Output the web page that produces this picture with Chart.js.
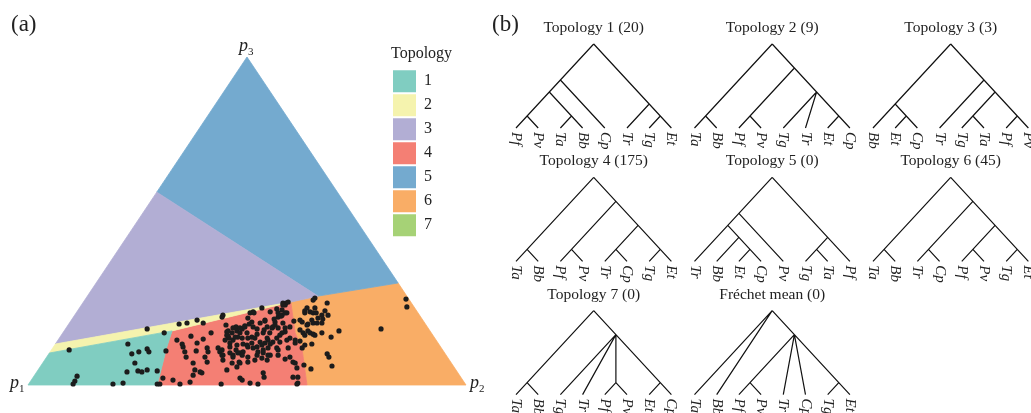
<!DOCTYPE html>
<html>
<head>
<meta charset="utf-8">
<script src="https://cdn.jsdelivr.net/npm/chart.js@4.4.1/dist/chart.umd.min.js"></script>
<style>
  body { margin: 0; background: #fff; }
  #marco { position: relative; width: 1031px; height: 413px; overflow: hidden; background: #fff; }
  canvas { position: absolute; }
</style>
</head>
<body>
<div id="marco">
  <canvas id="ternario" width="490" height="413" style="left:0;top:0"></canvas>
  <canvas id="leyenda" width="75" height="460" style="left:391px;top:40px"></canvas>
  <canvas id="arboles" width="541" height="413" style="left:490px;top:0"></canvas>
</div>
<script>
// ---------- datos del panel (a) ----------
const topologias = ['1', '2', '3', '4', '5', '6', '7'];
const coloresTopologia = ['#80cdc1', '#f5f3ae', '#b2aed4', '#f47f74', '#74aacf', '#f9ad66', '#a6d276'];

// vertices del simplex en coordenadas del triangulo (x, y)
const verticeP1 = [0, 0];
const verticeP2 = [1, 0];
const verticeP3 = [0.5, 1];

// regiones de cada topologia (vertices)
const region1 = [[0.0488, 0.0976], [0, 0], [0.295, 0], [0.317, 0.116], [0.329, 0.165]];
const region2 = [[0.0625, 0.125], [0.0488, 0.0976], [0.329, 0.165], [0.600, 0.253]];
const region3 = [[0.294, 0.588], [0.0625, 0.125], [0.600, 0.253], [0.662, 0.271]];
const region4 = [[0.329, 0.165], [0.317, 0.116], [0.295, 0], [0.637, 0], [0.626, 0.107], [0.610, 0.159], [0.600, 0.253]];
const region5 = [[0.5, 1], [0.294, 0.588], [0.662, 0.271], [0.845, 0.311]];
const region6 = [[0.600, 0.253], [0.610, 0.159], [0.626, 0.107], [0.637, 0], [1, 0], [0.845, 0.311], [0.662, 0.271]];

// muestras (puntos negros)
const puntosT1 = [[0.094,0.107],[0.228,0.125],[0.237,0.095],[0.253,0.101],[0.272,0.110],[0.276,0.101],[0.244,0.067],
  [0.226,0.040],[0.251,0.043],[0.272,0.046],[0.295,0.043],[0.260,0.040],[0.112,0.027],[0.107,0.012],[0.103,0.003],
  [0.194,0.003],[0.217,0.006],[0.295,0.003],[0.301,0.003],[0.315,0.104]];
const puntosT2 = [[0.272,0.171],[0.311,0.159],[0.345,0.186],[0.363,0.189],[0.400,0.189],[0.445,0.213],[0.534,0.235],
  [0.582,0.250],[0.589,0.250]];
const puntosT3 = [[0.386,0.198],[0.443,0.207],[0.502,0.204]];
const puntosT4 = [[0.340,0.137],[0.352,0.125],[0.354,0.116],[0.372,0.149],[0.386,0.128],[0.384,0.104],[0.358,0.101],
  [0.361,0.085],[0.377,0.067],[0.400,0.140],[0.418,0.159],[0.409,0.113],[0.411,0.101],[0.404,0.085],[0.434,0.113],
  [0.438,0.101],[0.445,0.091],[0.452,0.183],[0.454,0.162],[0.457,0.149],[0.466,0.159],[0.468,0.137],[0.461,0.128],
  [0.475,0.177],[0.477,0.165],[0.479,0.146],[0.484,0.159],[0.489,0.171],[0.495,0.177],[0.500,0.159],[0.505,0.186],
  [0.511,0.192],[0.514,0.177],[0.523,0.171],[0.530,0.189],[0.541,0.195],[0.546,0.177],[0.537,0.159],[0.552,0.159],
  [0.559,0.177],[0.564,0.192],[0.571,0.207],[0.580,0.213],[0.582,0.189],[0.591,0.220],[0.598,0.177],[0.587,0.162],
  [0.575,0.152],[0.548,0.137],[0.541,0.128],[0.530,0.131],[0.523,0.116],[0.511,0.128],[0.500,0.122],[0.491,0.101],
  [0.484,0.098],[0.475,0.107],[0.468,0.091],[0.482,0.070],[0.477,0.055],[0.466,0.067],[0.454,0.046],[0.445,0.076],
  [0.502,0.085],[0.523,0.091],[0.537,0.098],[0.546,0.076],[0.537,0.037],[0.539,0.024],[0.507,0.006],[0.525,0.003],
  [0.484,0.021],[0.489,0.015],[0.441,0.003],[0.381,0.046],[0.377,0.030],[0.397,0.037],[0.308,0.021],[0.331,0.015],
  [0.347,0.003],[0.370,0.009],[0.587,0.079],[0.605,0.070],[0.614,0.052],[0.605,0.024],[0.616,0.006],[0.594,0.113],
  [0.610,0.128],[0.598,0.143],[0.568,0.113],[0.571,0.091],[0.553,0.091],[0.587,0.244],[0.594,0.253],[0.568,0.232],
  [0.507,0.220],[0.514,0.223],[0.516,0.220],[0.468,0.174],[0.484,0.174],[0.495,0.180],[0.553,0.223],[0.562,0.201],
  [0.571,0.220],[0.578,0.210],[0.587,0.220],[0.580,0.229],[0.582,0.244],[0.607,0.195],[0.541,0.198],[0.539,0.168],
  [0.546,0.143],[0.511,0.146],[0.523,0.155],[0.518,0.143],[0.502,0.143],[0.489,0.143],[0.473,0.146],[0.459,0.143],
  [0.454,0.152],[0.457,0.165],[0.450,0.137],[0.568,0.143],[0.575,0.131],[0.591,0.137],[0.580,0.159],[0.571,0.174],
  [0.564,0.183],[0.557,0.174],[0.587,0.174],[0.559,0.131],[0.553,0.125],[0.548,0.113],[0.537,0.107],[0.525,0.101],
  [0.514,0.113],[0.489,0.091],[0.479,0.098],[0.468,0.085],[0.461,0.098],[0.443,0.091],[0.443,0.107],[0.461,0.116],
  [0.477,0.122],[0.491,0.125],[0.502,0.116],[0.534,0.122],[0.571,0.107],[0.598,0.085],[0.548,0.091],[0.534,0.082],
  [0.518,0.076],[0.484,0.067],[0.502,0.070],[0.610,0.067],[0.614,0.003],[0.393,0.040],[0.409,0.070]];
const puntosT6 = [[0.655,0.265],[0.683,0.250],[0.632,0.220],[0.637,0.235],[0.644,0.223],[0.651,0.220],[0.658,0.220],
  [0.671,0.213],[0.678,0.226],[0.685,0.213],[0.626,0.192],[0.637,0.183],[0.648,0.198],[0.651,0.189],[0.660,0.189],
  [0.671,0.189],[0.673,0.201],[0.621,0.168],[0.628,0.159],[0.639,0.165],[0.644,0.159],[0.655,0.152],[0.671,0.159],
  [0.710,0.165],[0.692,0.146],[0.610,0.137],[0.632,0.122],[0.648,0.125],[0.626,0.113],[0.683,0.095],[0.687,0.085],
  [0.694,0.058],[0.646,0.049],[0.630,0.061],[0.616,0.024],[0.806,0.171],[0.863,0.262],[0.865,0.238],[0.651,0.259],
  [0.655,0.235],[0.632,0.226],[0.662,0.204],[0.639,0.186],[0.632,0.152],[0.651,0.155],[0.621,0.134],[0.621,0.198]];

// ---------- datos del panel (b) ----------
const titulosArbol = ['Topology 1 (20)', 'Topology 2 (9)', 'Topology 3 (3)', 'Topology 4 (175)', 'Topology 5 (0)',
  'Topology 6 (45)', 'Topology 7 (0)', 'Fréchet mean (0)'];
const arbolesNewick = [
  '((((Pf,Pv),(Ta,Bb)),Cp),(Tr,(Tg,Et)))',
  '((Ta,Bb),((Pf,Pv),(Tg,Tr,(Et,Cp))))',
  '((Bb,(Et,Cp)),(Tr,((Tg,Ta),(Pf,Pv))))',
  '((Ta,Bb),((Pf,Pv),((Tr,Cp),(Tg,Et))))',
  '(((Tr,(Bb,(Et,Cp))),Pv),((Tg,Ta),Pf))',
  '((Ta,Bb),((Tr,Cp),((Pf,Pv),(Tg,Et))))',
  '((Ta,Bb),(Tg,Tr,(Pf,Pv),(Et,Cp)))',
  '(Ta,Bb,((Pf,Pv),Tr,Cp,(Tg,Et)))'
];

Chart.defaults.font.family = '"Liberation Serif", "DejaVu Serif", serif';
Chart.defaults.color = '#222';
Chart.defaults.animation = false;

const aXY = arr => arr.map(p => ({ x: p[0], y: p[1] }));
const cerrar = arr => aXY(arr.concat([arr[0]]));

// ---------- panel (a): simplex ----------
const regiones = [region1, region2, region3, region4, region5, region6];
const datasetsRegion = regiones.map((r, i) => ({
  type: 'line',
  data: cerrar(r),
  showLine: true,
  fill: 'shape',
  backgroundColor: coloresTopologia[i],
  borderColor: coloresTopologia[i],
  borderWidth: 0.8,
  pointRadius: 0,
  tension: 0,
  clip: false,
  order: 2
}));

const todosPuntos = puntosT1.concat(puntosT2, puntosT3, puntosT4, puntosT6);

const etiquetasVertice = {
  id: 'etiquetasVertice',
  afterDraw(chart) {
    const { ctx, scales: { x, y } } = chart;
    ctx.save();
    ctx.fillStyle = '#222';
    ctx.textAlign = 'left';
    ctx.textBaseline = 'alphabetic';
    function poner(v, dx, dy, sub) {
      const px = x.getPixelForValue(v[0]) + dx;
      const py = y.getPixelForValue(v[1]) + dy;
      ctx.font = 'italic 18px "Liberation Serif"';
      ctx.fillText('p', px, py);
      const w = ctx.measureText('p').width;
      ctx.font = '11px "Liberation Serif"';
      ctx.fillText(sub, px + w, py + 4);
    }
    poner(verticeP1, -18, 3, '1');
    poner(verticeP2, 4, 3, '2');
    poner(verticeP3, -8, -6, '3');
    ctx.font = '23px "Liberation Serif"';
    ctx.fillText('(a)', 11, 31);
    ctx.restore();
  }
};

new Chart(document.getElementById('ternario'), {
  type: 'scatter',
  data: {
    datasets: [{
      data: aXY(todosPuntos),
      backgroundColor: '#1c1c1c',
      borderWidth: 0,
      pointRadius: 2.6,
      clip: false,
      order: 0
    }].concat(datasetsRegion)
  },
  options: {
    responsive: false,
    devicePixelRatio: 1,
    events: [],
    layout: { padding: { left: 28, right: 24, top: 57, bottom: 28 } },
    scales: {
      x: { type: 'linear', min: 0, max: 1, display: false },
      y: { type: 'linear', min: 0, max: 1, display: false }
    },
    plugins: { legend: { display: false }, tooltip: { enabled: false } }
  },
  plugins: [etiquetasVertice]
});

// ---------- leyenda (una entrada por fila) ----------
new Chart(document.getElementById('leyenda'), {
  type: 'bar',
  data: {
    labels: [],
    datasets: topologias.map((t, i) => ({ label: t, data: [], backgroundColor: coloresTopologia[i], borderWidth: 0 }))
  },
  options: {
    responsive: false,
    devicePixelRatio: 1,
    events: [],
    scales: { x: { display: false }, y: { display: false } },
    plugins: {
      tooltip: { enabled: false },
      legend: {
        position: 'top',
        align: 'start',
        title: {
          display: true,
          text: 'Topology',
          position: 'start',
          color: '#222',
          font: { size: 16, weight: 'normal' },
          padding: { top: 6, bottom: 3 }
        },
        labels: {
          boxWidth: 23,
          boxHeight: 22,
          padding: 2,
          color: '#222',
          font: { size: 16 }
        }
      }
    }
  }
});

// ---------- panel (b): arboles ----------
function leerNewick(s) {
  let i = 0;
  function nodo() {
    if (s[i] === '(') {
      i++;
      const hijos = [];
      while (i < s.length) {
        hijos.push(nodo());
        if (s[i] === ',') { i++; continue; }
        if (s[i] === ')') { i++; break; }
      }
      return { hijos };
    }
    let nombre = '';
    while (i < s.length && !',()'.includes(s[i])) nombre += s[i++];
    return { nombre };
  }
  return nodo();
}

function ubicar(n, hojas) {
  if (!n.hijos) {
    n.primero = n.ultimo = hojas.length;
    hojas.push(n.nombre);
  } else {
    n.hijos.forEach(h => ubicar(h, hojas));
    n.primero = n.hijos[0].primero;
    n.ultimo = n.hijos[n.hijos.length - 1].ultimo;
  }
  // cladograma: cada nodo en el vertice del triangulo de sus hojas extremas
  n.x = (n.primero + n.ultimo) / 2;
  n.h = (n.ultimo - n.primero) / 2;
}

function ramas(n, dx, dy, out) {
  (n.hijos || []).forEach(h => {
    out.push({ x: dx + n.x, y: dy + n.h }, { x: dx + h.x, y: dy + h.h }, { x: dx + h.x, y: null });
    ramas(h, dx, dy, out);
  });
}

const pasoColumna = 8.04;
const pasoFila = -5.554;

const arboles = arbolesNewick.map((s, i) => {
  const raiz = leerNewick(s);
  const hojas = [];
  ubicar(raiz, hojas);
  const dx = (i % 3) * pasoColumna;
  const dy = Math.floor(i / 3) * pasoFila;
  const segmentos = [];
  ramas(raiz, dx, dy, segmentos);
  return { raiz, hojas, dx, dy, segmentos, titulo: titulosArbol[i] };
});

const textosArbol = {
  id: 'textosArbol',
  afterDraw(chart) {
    const { ctx, scales: { x, y } } = chart;
    ctx.save();
    ctx.fillStyle = '#222';
    arboles.forEach(a => {
      // titulo
      ctx.font = '15.5px "Liberation Serif"';
      ctx.textAlign = 'center';
      ctx.textBaseline = 'middle';
      ctx.fillText(a.titulo, x.getPixelForValue(a.dx + a.raiz.x), y.getPixelForValue(a.dy + a.raiz.h) - 16);
      // hojas
      ctx.font = 'italic 15px "Liberation Serif"';
      ctx.textAlign = 'left';
      a.hojas.forEach((nombre, k) => {
        const px = x.getPixelForValue(a.dx + k);
        const py = y.getPixelForValue(a.dy) + 4;
        ctx.save();
        ctx.translate(px, py);
        ctx.rotate(Math.PI / 2);
        ctx.fillText(nombre, 0, 0);
        ctx.restore();
      });
    });
    ctx.font = '23px "Liberation Serif"';
    ctx.textAlign = 'left';
    ctx.textBaseline = 'alphabetic';
    ctx.fillText('(b)', 2, 31);
    ctx.restore();
  }
};

new Chart(document.getElementById('arboles'), {
  type: 'scatter',
  data: {
    datasets: arboles.map(a => ({
      data: a.segmentos,
      showLine: true,
      spanGaps: false,
      borderColor: '#111',
      borderWidth: 1.2,
      pointRadius: 0,
      tension: 0,
      clip: false
    }))
  },
  options: {
    responsive: false,
    devicePixelRatio: 1,
    events: [],
    scales: {
      x: { type: 'linear', min: -1.171, max: 23.198, display: false },
      y: { type: 'linear', min: -11.875, max: 5.333, display: false }
    },
    plugins: { legend: { display: false }, tooltip: { enabled: false } }
  },
  plugins: [textosArbol]
});
</script>
</body>
</html>
